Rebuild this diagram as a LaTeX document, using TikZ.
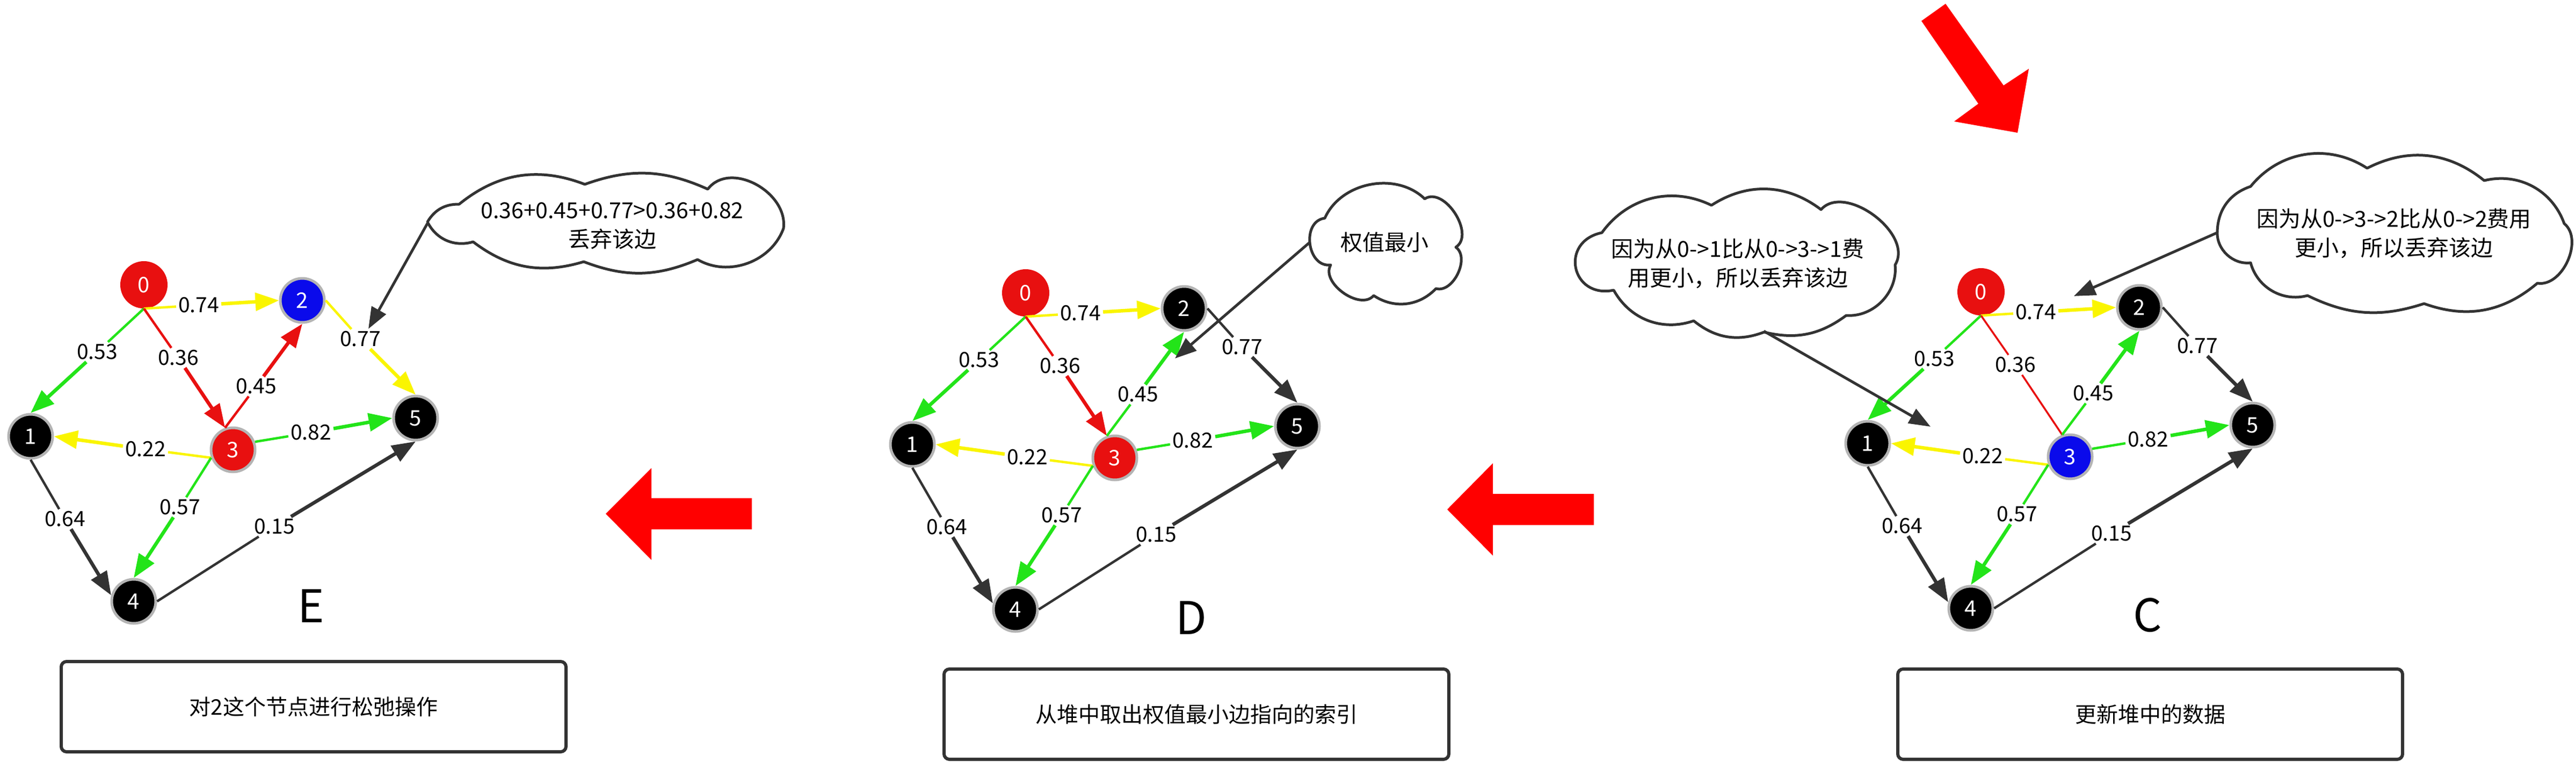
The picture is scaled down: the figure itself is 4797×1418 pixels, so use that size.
\documentclass[tikz,border=0pt]{standalone}
\usepackage{fontspec}
\setmainfont{Noto Sans CJK SC}
\usetikzlibrary{arrows.meta,shapes.geometric}
\definecolor{nred}{RGB}{232,16,16}
\definecolor{nblue}{RGB}{10,10,235}
\definecolor{eyel}{RGB}{250,245,0}
\definecolor{egrn}{RGB}{35,228,25}
\definecolor{edark}{RGB}{51,51,51}
\definecolor{vgray}{RGB}{180,180,180}
\definecolor{bigred}{RGB}{255,0,0}
\tikzset{
 vtx/.style={circle,minimum size=82pt,inner sep=0pt,draw=vgray,line width=5pt,text=white,font=\fontsize{40}{40}\selectfont},
 vtxz/.style={circle,minimum size=88pt,inner sep=0pt,fill=nred,text=white,font=\fontsize{40}{40}\selectfont},
 wlab/.style={inner sep=4pt,font=\fontsize{39}{39}\selectfont},
 ein/.style={line width=4.5pt},
 eout/.style={line width=6.5pt,-{Triangle[length=44pt,width=33pt]}},
 eplain/.style={line width=3.5pt},
 stagebox/.style={draw=edark,line width=6pt,rounded corners=10pt,minimum width=940pt,minimum height=168pt,font=\fontsize{40}{40}\selectfont},
 cloudline/.style={draw=edark,line width=5pt,fill=white,line join=round},
 cloudarea/.style={ellipse,inner sep=0pt},
 ctext/.style={align=center,font=\fontsize{41}{54}\selectfont},
 pointer/.style={draw=edark,line width=5pt,-{Triangle[length=40pt,width=30pt]}},
 panelmark/.style={font=\fontsize{84}{84}\selectfont},
 bigarrow/.style={fill=bigred,draw=none},
 puff/.style={out=90,in=90,relative,looseness=#1},
}
\newcommand\drawpanel[9]{%
\begin{scope}[shift={(#2,#3)}]
 \node[vtxz] (#1n0) at (0,0) {0};
 \node[vtx,fill=black] (#1n1) at (-211,282) {1};
 \node[vtx,fill=#4] (#1n2) at (295,29) {2};
 \node[vtx,fill=#5] (#1n3) at (166,307) {3};
 \node[vtx,fill=black] (#1n4) at (-19,589) {4};
 \node[vtx,fill=black] (#1n5) at (506,248) {5};
 \node[wlab] (#1w74) at (102,38) {0.74};
 \node[wlab] (#1w53) at (-87,125) {0.53};
 \node[wlab] (#1w36) at (64,136) {0.36};
 \node[wlab] (#1w45) at (209,189) {0.45};
 \node[wlab] (#1w77) at (403,101) {0.77};
 \node[wlab] (#1w82) at (311,275) {0.82};
 \node[wlab] (#1w22) at (3,306) {0.22};
 \node[wlab] (#1w57) at (67,414) {0.57};
 \node[wlab] (#1w64) at (-147,436) {0.64};
 \node[wlab] (#1w15) at (243,450) {0.15};
 \draw[ein,eyel] (#1n0.south) -- (#1w74);
 \draw[eout,eyel] (#1w74) -- (#1n2.west);
 \draw[ein,egrn] (#1n0.south) -- (#1w53);
 \draw[eout,egrn] (#1w53) -- (#1n1.north);
 \draw[#8,nred] (#1n0.south) -- (#1w36);
 \draw[#9,nred] (#1w36) -- (#1n3.110);
 \draw[ein,#6] (#1n3.110) -- (#1w45);
 \draw[eout,#6] (#1w45) -- (#1n2.south);
 \draw[ein,#7] (#1n2.east) -- (#1w77);
 \draw[eout,#7] (#1w77) -- (#1n5.north);
 \draw[ein,egrn] (#1n3.20) -- (#1w82);
 \draw[eout,egrn] (#1w82) -- (#1n5.west);
 \draw[ein,eyel] (#1n3.200) -- (#1w22);
 \draw[eout,eyel] (#1w22) -- (#1n1.east);
 \draw[ein,egrn] (#1n3.200) -- (#1w57);
 \draw[eout,egrn] (#1w57) -- (#1n4.north);
 \draw[ein,edark] (#1n1.south) -- (#1w64);
 \draw[eout,edark] (#1w64) -- (#1n4.165);
 \draw[ein,edark] (#1n4.east) -- (#1w15);
 \draw[eout,edark] (#1w15) -- (#1n5.south);
\end{scope}}
\begin{document}
\begin{tikzpicture}[x=1pt,y=-1pt]
\useasboundingbox (0,0) rectangle (4797,1418);
\fill[white] (0,0) rectangle (4797,1418);
% panels
\drawpanel{e}{268}{530}{nblue}{nred}{nred}{eyel}{ein}{eout}
\drawpanel{d}{1910}{545}{black}{nred}{egrn}{edark}{ein}{eout}
\drawpanel{c}{3689}{543}{black}{nblue}{egrn}{edark}{eplain}{eplain}
% panel letters
\node[panelmark] (markE) at (579,1128) {E};
\node[panelmark] (markD) at (2218,1150) {D};
\node[panelmark] (markC) at (3999,1145) {C};
% cloud E
\draw[cloudline] (796,413) to[bend left=30] (855,380) to[bend left=30] (1089,343) to[bend left=22] (1318,352)
  to[out=80,in=110,relative,looseness=1.1] (1459,425) to[bend left=50] (1299,483) to[bend left=22] (1087,487)
  to[bend left=27] (881,450) to[bend left=40] (796,413) -- cycle;
\node[cloudarea,minimum width=688pt,minimum height=180pt] (cloudE) at (1140,416) {};
\node[ctext] (textE) at (1140,420) {0.36+0.45+0.77>0.36+0.82\\丢弃该边};
\coordinate (tipE) at (686,612);
\draw[pointer] (cloudE.west) -- (tipE);
% cloud D
\draw[cloudline] (2467,406) to[bend left=55] (2653,370) to[puff=1.05] (2711,460) to[bend left=80] (2674,537)
  to[bend left=40] (2558,550) to[bend left=85] (2478,493) to[puff=1.3] (2467,406) -- cycle;
\node[cloudarea,minimum width=284pt,minimum height=220pt] (cloudD) at (2580,452) {};
\node[ctext] (textD) at (2578,451) {权值最小};
\coordinate (tipD) at (2188,667);
\draw[pointer] (cloudD.west) -- (tipD);
% cloud C left
\draw[cloudline] (2983,433) to[bend left=40] (3187,382) to[bend left=35] (3391,390) to[bend left=85] (3529,493)
  to[bend left=50] (3438,587) to[bend left=25] (3285,618) to[bend left=30] (3154,597) to[bend left=40] (3005,540)
  to[puff=1.9] (2983,433) -- cycle;
\node[cloudarea,minimum width=600pt,minimum height=264pt] (cloudCL) at (3232,486) {};
\node[ctext] (textCL) at (3236,490) {因为从0->1比从0->3->1费\\用更小，所以丢弃该边};
\coordinate (tipCL) at (3595,794);
\draw[pointer] (cloudCL.-68) -- (tipCL);
% cloud C right
\draw[cloudline] (4129,431) to[bend left=35] (4191,347) to[bend left=42] (4408,313) to[bend left=33] (4626,336)
  to[bend left=42] (4775,416) to[bend left=75] (4725,527) to[bend left=30] (4514,565) to[bend left=22] (4297,550)
  to[bend left=45] (4191,489) to[bend left=50] (4129,431) -- cycle;
\node[cloudarea,minimum width=656pt,minimum height=286pt] (cloudCR) at (4457,433) {};
\node[ctext] (textCR) at (4458,434) {因为从0->3->2比从0->2费用\\更小，所以丢弃该边};
\coordinate (tipCR) at (3862,551);
\draw[pointer] (cloudCR.west) -- (tipCR);
% big arrows
\fill[bigarrow] (1128,956) -- (1213,871) -- (1213,927) -- (1400,927) -- (1400,985) -- (1213,985) -- (1213,1042) -- cycle;
\fill[bigarrow] (2695,948) -- (2780,862) -- (2780,919) -- (2968,919) -- (2968,977) -- (2780,977) -- (2780,1034) -- cycle;
\fill[bigarrow] (3578,39) -- (3623,7) -- (3731,159) -- (3778,128) -- (3757,247) -- (3639,226) -- (3684,193) -- cycle;
% boxes
\node[stagebox] (boxE) at (584,1315) {对2这个节点进行松弛操作};
\node[stagebox] (boxD) at (2228,1329) {从堆中取出权值最小边指向的索引};
\node[stagebox] (boxC) at (4004,1329) {更新堆中的数据};
\end{tikzpicture}
\end{document}
